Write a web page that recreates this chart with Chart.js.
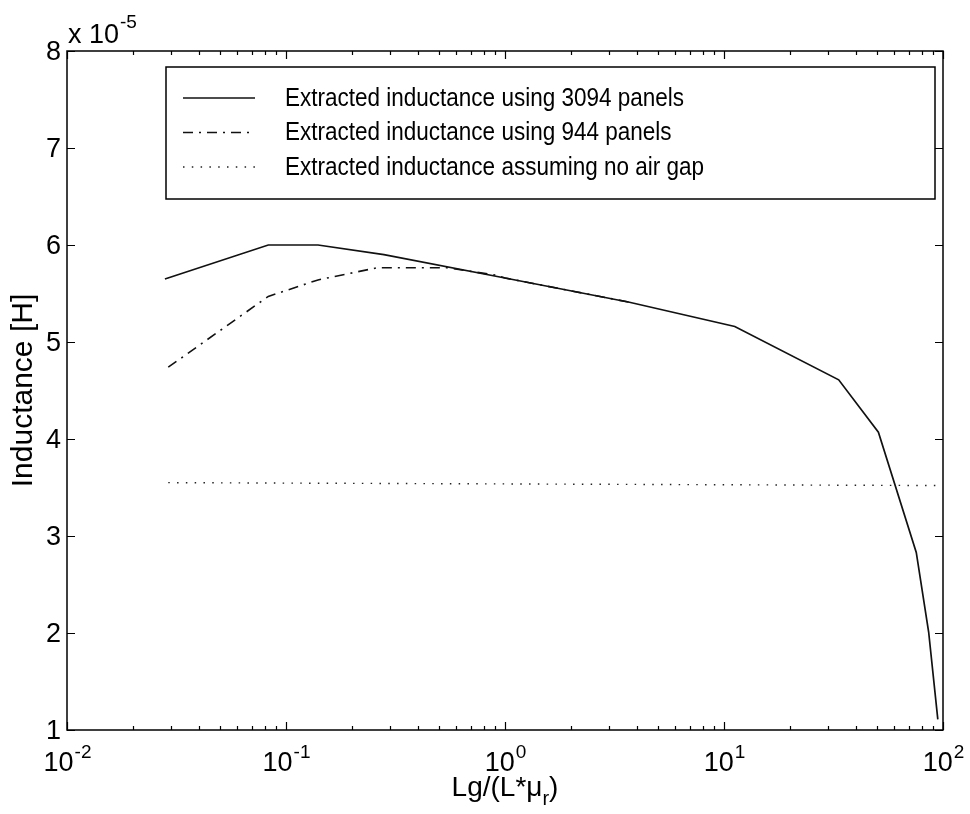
<!DOCTYPE html>
<html>
<head>
<meta charset="utf-8">
<script src="https://cdn.jsdelivr.net/npm/chart.js@4.4.0/dist/chart.umd.min.js"></script>
<style>
  html, body { margin: 0; padding: 0; background: #fff; }
  #wrap { width: 970px; height: 814px; position: relative; }
</style>
</head>
<body>
<div id="wrap"><canvas id="inductance-chart"></canvas></div>
<script>
// inductance values are in units of 1e-5 H (see the "x 10^-5" axis multiplier)
const x_3094 = [0.028, 0.083, 0.14, 0.28, 1.0, 3.7, 11.2, 33.4, 50.7, 75.5, 86, 94.7];
const y_3094 = [5.65, 6.0, 6.0, 5.9, 5.66, 5.41, 5.16, 4.61, 4.07, 2.83, 2.01, 1.11];

const x_944 = [0.029, 0.083, 0.14, 0.26, 0.55, 0.9, 1.0, 3.7];
const y_944 = [4.74, 5.47, 5.64, 5.765, 5.765, 5.69, 5.66, 5.41];

const x_noGap = [0.029, 94.7];
const y_noGap = [3.55, 3.52];

const labels = [
  "Extracted inductance using 3094 panels",
  "Extracted inductance using 944 panels",
  "Extracted inductance assuming no air gap",
];

const xDecades = [-2, -1, 0, 1, 2];
const yTicks = [1, 2, 3, 4, 5, 6, 7, 8];
const yExponent = -5;

const FONT = "'Liberation Sans', Arial, Helvetica, sans-serif";
const TICK_PX = 27;
const SUP_PX = 19;

function toPoints(xs, ys) {
  return xs.map((x, i) => ({ x: x, y: ys[i] }));
}

function font(px) {
  return px + "px " + FONT;
}

// matlab style axes: boxed frame, inward ticks, superscript tick labels, framed legend
const matlabAxes = {
  id: "matlabAxes",
  afterDatasetsDraw(chart) {
    const ctx = chart.ctx;
    const area = chart.chartArea;
    const xs = chart.scales.x;
    const ys = chart.scales.y;
    ctx.save();
    ctx.strokeStyle = "#000";
    ctx.fillStyle = "#000";
    ctx.lineWidth = 1.5;
    ctx.setLineDash([]);

    // frame
    ctx.strokeRect(area.left, area.top, area.right - area.left, area.bottom - area.top);

    // x ticks (major + minor), bottom and top
    ctx.lineWidth = 1.2;
    ctx.beginPath();
    xDecades.forEach((d) => {
      for (let m = 1; m <= 9; m++) {
        const v = m * Math.pow(10, d);
        if (v > xs.max * 1.0001) break;
        const px = Math.round(xs.getPixelForValue(v)) + 0.5;
        const len = m === 1 ? 8 : 4;
        ctx.moveTo(px, area.bottom);
        ctx.lineTo(px, area.bottom - len);
        ctx.moveTo(px, area.top);
        ctx.lineTo(px, area.top + len);
      }
    });
    // y ticks, left and right
    yTicks.forEach((v) => {
      const py = Math.round(ys.getPixelForValue(v)) + 0.5;
      ctx.moveTo(area.left, py);
      ctx.lineTo(area.left + 8, py);
      ctx.moveTo(area.right, py);
      ctx.lineTo(area.right - 8, py);
    });
    ctx.stroke();

    // y tick labels
    ctx.font = font(TICK_PX);
    ctx.textAlign = "right";
    ctx.textBaseline = "middle";
    yTicks.forEach((v) => {
      ctx.fillText(String(v), area.left - 6, ys.getPixelForValue(v) + 2);
    });

    // x tick labels: 10^d
    ctx.textAlign = "left";
    ctx.textBaseline = "alphabetic";
    xDecades.forEach((d) => {
      const px = xs.getPixelForValue(Math.pow(10, d));
      ctx.font = font(TICK_PX);
      const wb = ctx.measureText("10").width;
      ctx.font = font(SUP_PX);
      const exp = String(d);
      const we = ctx.measureText(exp).width;
      const x0 = px - (wb + we) / 2;
      ctx.font = font(TICK_PX);
      ctx.fillText("10", x0, 771);
      ctx.font = font(SUP_PX);
      ctx.fillText(exp, x0 + wb + 1, 758);
    });

    // y multiplier above the axis
    ctx.font = font(TICK_PX);
    ctx.fillText("x 10", 68, 43);
    const wm = ctx.measureText("x 10").width;
    ctx.font = font(SUP_PX);
    ctx.fillText(String(yExponent), 68 + wm + 1, 28);

    // x axis title: Lg/(L*mu_r)
    ctx.font = font(28);
    const t1 = "Lg/(L*\u03bc";
    const t3 = ")";
    const w1 = ctx.measureText(t1).width;
    const w3 = ctx.measureText(t3).width;
    ctx.font = font(20);
    const w2 = ctx.measureText("r").width;
    const cx = (area.left + area.right) / 2;
    const tx = cx - (w1 + w2 + w3) / 2;
    ctx.font = font(28);
    ctx.fillText(t1, tx, 796);
    ctx.font = font(20);
    ctx.fillText("r", tx + w1, 805);
    ctx.font = font(28);
    ctx.fillText(t3, tx + w1 + w2, 796);

    // y axis title
    ctx.save();
    ctx.translate(24, (area.top + area.bottom) / 2);
    ctx.rotate(-Math.PI / 2);
    ctx.textAlign = "center";
    ctx.textBaseline = "middle";
    ctx.font = font(30);
    ctx.fillText("Inductance [H]", 0, 0);
    ctx.restore();

    // legend
    const lx = 166, ly = 67, lw = 769, lh = 132;
    ctx.fillStyle = "#fff";
    ctx.fillRect(lx, ly, lw, lh);
    ctx.lineWidth = 1.5;
    ctx.strokeStyle = "#000";
    ctx.strokeRect(lx, ly, lw, lh);
    ctx.fillStyle = "#000";
    ctx.textAlign = "left";
    ctx.textBaseline = "middle";
    chart.data.datasets.forEach((ds, i) => {
      const rowY = 98 + i * 34.5;
      ctx.save();
      ctx.strokeStyle = ds.borderColor;
      ctx.lineWidth = ds.borderWidth;
      ctx.setLineDash(ds.borderDash || []);
      ctx.beginPath();
      ctx.moveTo(183, rowY);
      ctx.lineTo(255, rowY);
      ctx.stroke();
      ctx.restore();
      // slightly condensed face for the legend entries
      ctx.save();
      ctx.translate(285, rowY + 1);
      ctx.scale(0.9, 1);
      ctx.font = font(25);
      ctx.fillText(ds.label, 0, 0);
      ctx.restore();
    });

    ctx.restore();
  },
};

const config = {
  type: "scatter",
  data: {
    datasets: [
      {
        label: labels[0],
        data: toPoints(x_3094, y_3094),
        borderColor: "#111",
        borderWidth: 1.7,
        borderDash: [],
      },
      {
        label: labels[1],
        data: toPoints(x_944, y_944),
        borderColor: "#111",
        borderWidth: 1.6,
        borderDash: [10, 6, 2, 6],
      },
      {
        label: labels[2],
        data: toPoints(x_noGap, y_noGap),
        borderColor: "#222",
        borderWidth: 1.4,
        borderDash: [1.5, 7.3],
      },
    ],
  },
  options: {
    responsive: true,
    maintainAspectRatio: false,
    animation: false,
    showLine: true,
    elements: {
      point: { radius: 0, hoverRadius: 0 },
      line: { tension: 0, borderCapStyle: "butt" },
    },
    layout: {
      padding: { left: 67, top: 51, right: 27, bottom: 84 },
    },
    scales: {
      x: {
        type: "logarithmic",
        min: 0.01,
        max: 100,
        display: false,
      },
      y: {
        type: "linear",
        min: 1,
        max: 8,
        display: false,
      },
    },
    plugins: {
      legend: { display: false },
      tooltip: { enabled: false },
    },
  },
  plugins: [matlabAxes],
};

const ctx_ind = document.getElementById("inductance-chart").getContext("2d");
const inductanceChart = new Chart(ctx_ind, config);
</script>
</body>
</html>
